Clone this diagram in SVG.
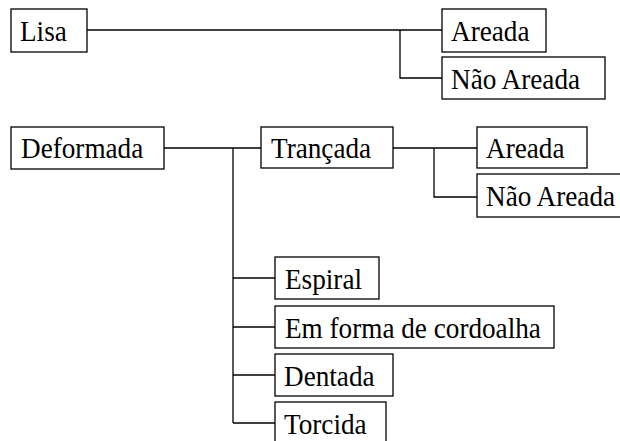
<svg xmlns="http://www.w3.org/2000/svg" width="620" height="441" viewBox="0 0 620 441">
<style>
.box{fill:#fff;stroke:#000;stroke-width:1.3}
.lbl{font-family:"Liberation Serif","Times New Roman",serif;font-size:27.2px;fill:#000}
.con{fill:none;stroke:#000;stroke-width:1.3}
</style>
<rect width="620" height="441" fill="#fff"/>
<g id="connectors">
<path class="con" d="M87,30 H442"/>
<path class="con" d="M400,30 V78 H442"/>
<path class="con" d="M164,148 H261"/>
<path class="con" d="M233,148 V423"/>
<path class="con" d="M233,278 H275"/>
<path class="con" d="M233,327 H275"/>
<path class="con" d="M233,375 H275"/>
<path class="con" d="M233,423 H275"/>
<path class="con" d="M393,148 H477"/>
<path class="con" d="M434,148 V197 H477"/>
</g>
<g id="lisa"><rect class="box" x="11" y="9" width="76" height="43"/><text class="lbl" transform="translate(20 41) scale(1 1.1)">Lisa</text></g>
<g id="lisa-areada"><rect class="box" x="442" y="9" width="104" height="43"/><text class="lbl" transform="translate(451 41) scale(1 1.1)">Areada</text></g>
<g id="lisa-nao-areada"><rect class="box" x="442" y="57" width="163" height="42"/><text class="lbl" transform="translate(451 89) scale(1 1.1)">Não Areada</text></g>
<g id="deformada"><rect class="box" x="11" y="127" width="153" height="42"/><text class="lbl" transform="translate(21 158) scale(1 1.1)">Deformada</text></g>
<g id="trancada"><rect class="box" x="261" y="127" width="132" height="41"/><text class="lbl" transform="translate(271 158) scale(1 1.1)">Trançada</text></g>
<g id="trancada-areada"><rect class="box" x="477" y="127" width="110" height="41"/><text class="lbl" transform="translate(486 158) scale(1 1.1)">Areada</text></g>
<g id="trancada-nao-areada"><rect class="box" x="477" y="174" width="146" height="43"/><text class="lbl" transform="translate(486 206) scale(1 1.1)">Não Areada</text></g>
<g id="espiral"><rect class="box" x="275" y="257" width="104" height="42"/><text class="lbl" transform="translate(285 289) scale(1 1.1)">Espiral</text></g>
<g id="em-forma"><rect class="box" x="275" y="306" width="279" height="42"/><text class="lbl" transform="translate(285 338) scale(1 1.1)">Em forma de cordoalha</text></g>
<g id="dentada"><rect class="box" x="275" y="354" width="118" height="42"/><text class="lbl" transform="translate(284 386) scale(1 1.1)">Dentada</text></g>
<g id="torcida"><rect class="box" x="275" y="402" width="111" height="44"/><text class="lbl" transform="translate(284 434) scale(1 1.1)">Torcida</text></g>
</svg>
